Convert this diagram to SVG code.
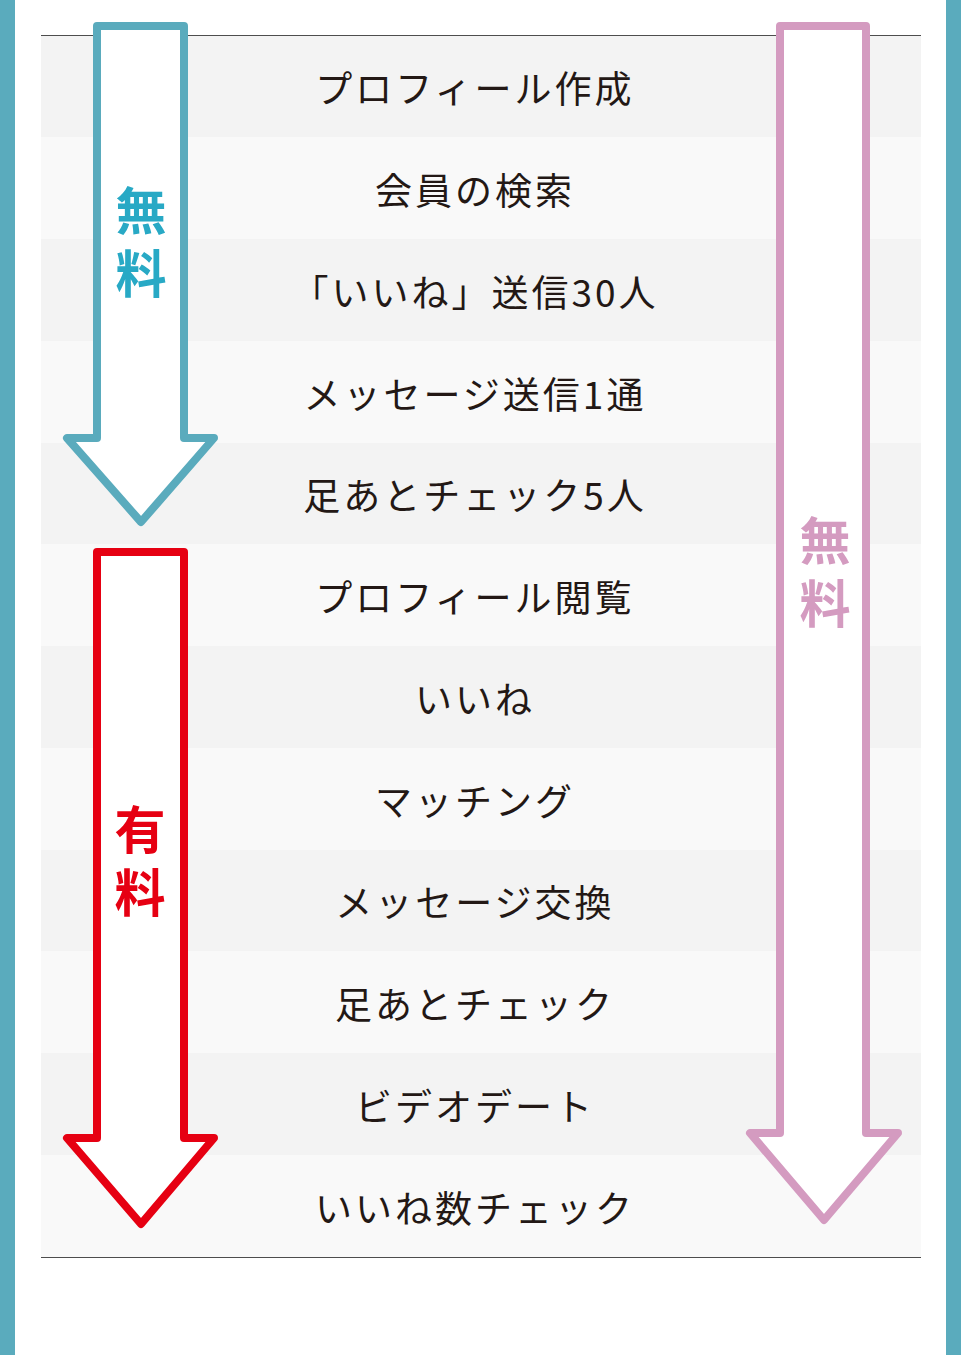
<svg xmlns="http://www.w3.org/2000/svg" width="961" height="1355" viewBox="0 0 961 1355">
<style>
.ra{fill:#f3f3f3}
.rb{fill:#f9f9f9}
.rule{stroke:#4d4d4d;stroke-width:1.2}
.item{font-family:"Noto Sans CJK JP","Noto Sans",sans-serif;font-size:37px;font-weight:400;fill:#231815;text-anchor:middle;letter-spacing:3px}
.arrow{fill:#fff;stroke-width:8;stroke-linejoin:round}
.lab{font-family:"Noto Sans CJK JP","Noto Sans",sans-serif;font-size:51px;font-weight:700;writing-mode:vertical-rl;letter-spacing:12px}
</style>
<rect width="961" height="1355" fill="#fff"/>
<rect x="0" y="0" width="15" height="1355" fill="#5aabbd"/>
<rect x="946" y="0" width="15" height="1355" fill="#5aabbd"/>
<g id="table">
<rect class="ra" x="41" y="35" width="880" height="102"/>
<rect class="rb" x="41" y="137" width="880" height="102"/>
<rect class="ra" x="41" y="239" width="880" height="102"/>
<rect class="rb" x="41" y="341" width="880" height="102"/>
<rect class="ra" x="41" y="443" width="880" height="101"/>
<rect class="rb" x="41" y="544" width="880" height="102"/>
<rect class="ra" x="41" y="646" width="880" height="102"/>
<rect class="rb" x="41" y="748" width="880" height="102"/>
<rect class="ra" x="41" y="850" width="880" height="101"/>
<rect class="rb" x="41" y="951" width="880" height="102"/>
<rect class="ra" x="41" y="1053" width="880" height="102"/>
<rect class="rb" x="41" y="1155" width="880" height="102"/>
<line class="rule" x1="41" y1="35.5" x2="921" y2="35.5"/>
<line class="rule" x1="41" y1="1257.5" x2="921" y2="1257.5"/>
</g>
<g id="arrows">
<path id="arrow-free1" class="arrow" stroke="#5aabbd" d="M97,26 L184,26 L184,438 L214,438 L141,522 L67,438 L97,438 Z"/>
<path id="arrow-paid" class="arrow" stroke="#e60012" d="M97,552 L184,552 L184,1138 L214,1138 L141,1224 L67,1138 L97,1138 Z"/>
<path id="arrow-free2" class="arrow" stroke="#d49bc0" d="M780,26 L866,26 L866,1133 L898,1133 L824,1220 L750,1133 L780,1133 Z"/>
</g>
<g id="labels">
<text class="lab" fill="#28a9c5" x="141" y="185">無料</text>
<text class="lab" fill="#e60012" x="140" y="804">有料</text>
<text class="lab" fill="#d49bc0" x="825" y="515">無料</text>
</g>
<g id="items">
<text class="item" x="475" y="103">プロフィール作成</text>
<text class="item" x="475" y="205">会員の検索</text>
<text class="item" x="475" y="307">「いいね」送信30人</text>
<text class="item" x="475" y="409">メッセージ送信1通</text>
<text class="item" x="475" y="510">足あとチェック5人</text>
<text class="item" x="475" y="612">プロフィール閲覧</text>
<text class="item" x="475" y="714">いいね</text>
<text class="item" x="475" y="816">マッチング</text>
<text class="item" x="475" y="917">メッセージ交換</text>
<text class="item" x="475" y="1019">足あとチェック</text>
<text class="item" x="475" y="1121">ビデオデート</text>
<text class="item" x="475" y="1223">いいね数チェック</text>
</g>
</svg>
